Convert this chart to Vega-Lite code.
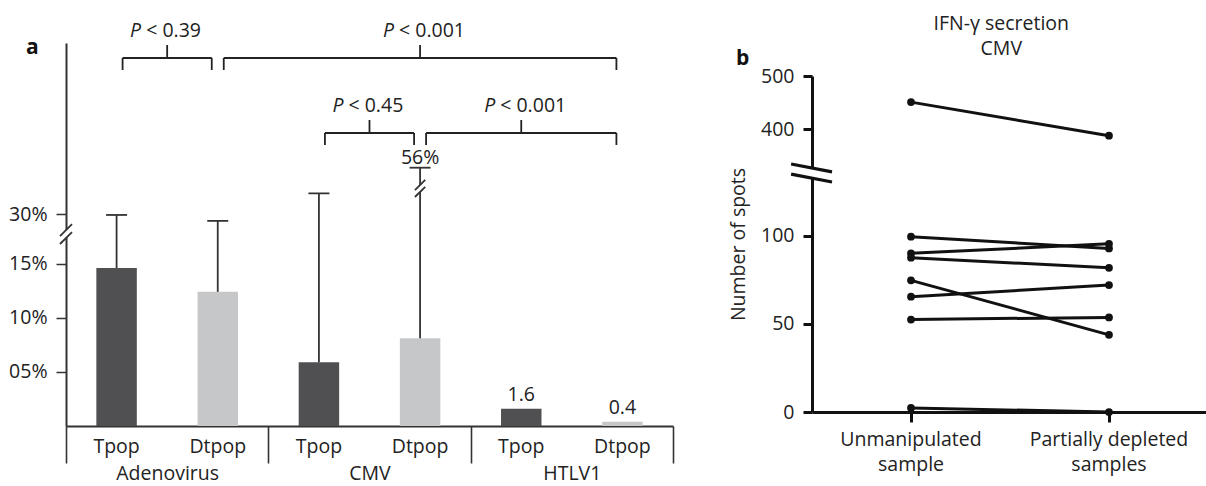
{
  "$schema": "https://vega.github.io/schema/vega-lite/v6.json",
  "background": "white",
  "padding": {"left": 8, "top": 13, "right": 0, "bottom": 4},
  "spacing": 54,
  "config": {
    "font": "Open Sans",
    "view": {"stroke": null},
    "axis": {"labelFont": "Open Sans", "titleFont": "Open Sans", "labelFontSize": 19.5, "titleFontSize": 19.5, "labelColor": "#222", "titleColor": "#222", "titleFontWeight": "normal", "grid": false},
    "title": {"font": "Open Sans", "color": "#222"},
    "text": {"font": "Open Sans", "fontSize": 19.5, "color": "#222"}
  },
  "hconcat": [
    {
      "width": 607,
      "height": 383,
      "title": {"text": "a", "anchor": "start", "frame": "group", "dx": -40, "dy": 54, "offset": 0, "fontSize": 21, "fontWeight": "bold", "baseline": "alphabetic", "color": "#111"},
      "layer": [
        {
          "data": {"values": [
            {"virus": "Adenovirus", "type": "Tpop", "bar": "Adenovirus Tpop", "pct": 14.6, "err": 29.8},
            {"virus": "Adenovirus", "type": "Dtpop", "bar": "Adenovirus Dtpop", "pct": 12.4, "err": 28.0},
            {"virus": "CMV", "type": "Tpop", "bar": "CMV Tpop", "pct": 5.9, "err": 41.7},
            {"virus": "CMV", "type": "Dtpop", "bar": "CMV Dtpop", "pct": 8.1, "err": 56, "errLabel": "56%"},
            {"virus": "HTLV1", "type": "Tpop", "bar": "HTLV1 Tpop", "pct": 1.6, "label": "1.6"},
            {"virus": "HTLV1", "type": "Dtpop", "bar": "HTLV1 Dtpop", "pct": 0.4, "label": "0.4"}
          ]},
          "encoding": {
            "x": {"field": "bar", "type": "nominal",
              "scale": {"domain": ["Adenovirus Tpop", "Adenovirus Dtpop", "CMV Tpop", "CMV Dtpop", "HTLV1 Tpop", "HTLV1 Dtpop"], "paddingInner": 0.6, "paddingOuter": 0.3},
              "axis": {"orient": "bottom", "title": null, "domain": false, "ticks": false, "tickSize": 0, "labelPadding": 11, "labelAngle": 0, "labelExpr": "split(datum.value, ' ')[1]"}}
          },
          "layer": [
            {
              "mark": {"type": "bar"},
              "encoding": {
                "y": {"field": "pct", "type": "quantitative",
                  "scale": {"domain": [0, 15, 30, 56, 125], "range": [383, 220.7, 171.3, 124.7, 0], "nice": false, "zero": false},
                  "axis": {"orient": "left", "title": null, "values": [5, 10, 15, 30], "labelExpr": "datum.value == 5 ? '05%' : datum.value + '%'", "domainColor": "#333", "domainWidth": 2, "tickColor": "#333", "tickWidth": 1.5, "tickSize": 10, "labelPadding": 9}},
                "color": {"field": "type", "type": "nominal", "scale": {"domain": ["Tpop", "Dtpop"], "range": ["#505052", "#c6c7c9"]}, "legend": null}
              }
            },
            {
              "transform": [{"filter": "datum.err != null"}],
              "mark": {"type": "rule", "color": "#333", "strokeWidth": 1.8},
              "encoding": {"y": {"field": "pct", "type": "quantitative"}, "y2": {"field": "err"}}
            },
            {
              "transform": [{"filter": "datum.err != null"}],
              "mark": {"type": "tick", "color": "#333", "thickness": 1.8, "size": 21, "orient": "horizontal", "opacity": 1},
              "encoding": {"y": {"field": "err", "type": "quantitative"}}
            },
            {
              "transform": [{"filter": "datum.label != null"}],
              "mark": {"type": "text", "baseline": "alphabetic", "dy": -8},
              "encoding": {"y": {"field": "pct", "type": "quantitative"}, "text": {"field": "label"}}
            },
            {
              "transform": [{"filter": "datum.errLabel != null"}],
              "mark": {"type": "text", "baseline": "alphabetic", "dy": -4},
              "encoding": {"y": {"field": "err", "type": "quantitative"}, "text": {"field": "errLabel"}}
            }
          ]
        },
        {
          "data": {"values": [
            {"from": "Adenovirus Tpop", "to": "Adenovirus Dtpop", "span": 1, "level": 2, "p": "< 0.39"},
            {"from": "Adenovirus Dtpop", "to": "HTLV1 Dtpop", "span": 4, "level": 2, "p": "< 0.001"},
            {"from": "CMV Tpop", "to": "CMV Dtpop", "span": 1, "level": 1, "p": "< 0.45"},
            {"from": "CMV Dtpop", "to": "HTLV1 Dtpop", "span": 2, "level": 1, "p": "< 0.001"}
          ]},
          "encoding": {
            "x": {"field": "from", "type": "nominal",
              "scale": {"domain": ["Adenovirus Tpop", "Adenovirus Dtpop", "CMV Tpop", "CMV Dtpop", "HTLV1 Tpop", "HTLV1 Dtpop"], "paddingInner": 0.6, "paddingOuter": 0.3},
              "axis": null},
            "y": {"field": "level", "type": "quantitative", "scale": {"domain": [1, 2], "range": [90, 15], "nice": false, "zero": false}, "axis": null}
          },
          "layer": [
            {
              "mark": {"type": "rule", "color": "#222", "strokeWidth": 1.8, "xOffset": 6, "x2Offset": -6},
              "encoding": {"x2": {"field": "to"}}
            },
            {
              "mark": {"type": "rule", "color": "#222", "strokeWidth": 1.8, "xOffset": 6, "y2Offset": 12},
              "encoding": {"y2": {"field": "level"}}
            },
            {
              "mark": {"type": "rule", "color": "#222", "strokeWidth": 1.8, "xOffset": -6, "y2Offset": 12},
              "encoding": {"x": {"field": "to", "type": "nominal", "axis": null}, "y2": {"field": "level"}}
            },
            {
              "mark": {"type": "rule", "color": "#222", "strokeWidth": 1.8, "y2Offset": -13},
              "encoding": {"xOffset": {"field": "span", "type": "quantitative", "scale": {"domain": [0, 1], "range": [20.23, 70.81], "zero": false, "nice": false}}, "y2": {"field": "level"}}
            },
            {
              "mark": {"type": "text", "align": "right", "baseline": "alphabetic", "dx": -26, "dy": -21, "fontStyle": "italic", "text": "P"},
              "encoding": {"xOffset": {"field": "span", "type": "quantitative", "scale": {"domain": [0, 1], "range": [20.23, 70.81], "zero": false, "nice": false}}}
            },
            {
              "mark": {"type": "text", "align": "left", "baseline": "alphabetic", "dx": -21, "dy": -21},
              "encoding": {"xOffset": {"field": "span", "type": "quantitative", "scale": {"domain": [0, 1], "range": [20.23, 70.81], "zero": false, "nice": false}}, "text": {"field": "p"}}
            }
          ]
        },
        {
          "data": {"values": [{}]},
          "encoding": {
            "x": {"datum": "Adenovirus", "type": "nominal", "bandPosition": 0,
              "scale": {"domain": ["Adenovirus", "CMV", "HTLV1"], "paddingInner": 0, "paddingOuter": 0},
              "axis": {"orient": "bottom", "title": null, "domain": true, "domainColor": "#333", "domainWidth": 2, "ticks": true, "tickBand": "extent", "tickSize": 37, "tickWidth": 1.6, "tickColor": "#333", "labelPadding": 1, "labelAngle": 0}},
            "y": {"datum": 24, "type": "quantitative", "scale": {"domain": [0, 15, 30, 56, 125], "range": [383, 220.7, 171.3, 124.7, 0], "nice": false, "zero": false}, "axis": null}
          },
          "layer": [
            {"mark": {"type": "point", "shape": "M-0.43,0.14L0.43,-0.71L0.43,-0.14L-0.43,0.71Z", "size": 784, "filled": true, "color": "white", "opacity": 1, "strokeWidth": 0}},
            {"mark": {"type": "point", "shape": "M-0.43,0.14L0.43,-0.71M-0.43,0.71L0.43,-0.14", "size": 784, "filled": false, "color": "#333", "opacity": 1, "strokeWidth": 1.8}}
          ]
        },
        {
          "data": {"values": [{}]},
          "encoding": {
            "x": {"datum": "CMV Dtpop", "type": "nominal",
              "scale": {"domain": ["Adenovirus Tpop", "Adenovirus Dtpop", "CMV Tpop", "CMV Dtpop", "HTLV1 Tpop", "HTLV1 Dtpop"], "paddingInner": 0.6, "paddingOuter": 0.3},
              "axis": null},
            "y": {"datum": 44.4, "type": "quantitative", "scale": {"domain": [0, 15, 30, 56, 125], "range": [383, 220.7, 171.3, 124.7, 0], "nice": false, "zero": false}, "axis": null}
          },
          "layer": [
            {"mark": {"type": "point", "shape": "M-0.43,0.14L0.43,-0.71L0.43,-0.14L-0.43,0.71Z", "size": 576, "filled": true, "color": "white", "opacity": 1, "strokeWidth": 0}},
            {"mark": {"type": "point", "shape": "M-0.43,0.14L0.43,-0.71M-0.43,0.71L0.43,-0.14", "size": 576, "filled": false, "color": "#333", "opacity": 1, "strokeWidth": 1.8}}
          ]
        }
      ],
      "resolve": {"scale": {"x": "independent", "y": "independent", "xOffset": "independent"}, "axis": {"x": "independent", "y": "independent"}}
    },
    {
      "title": {"text": ["IFN-γ secretion", "CMV"], "anchor": "middle", "fontSize": 19.5, "fontWeight": "normal", "lineHeight": 25, "offset": -31, "baseline": "alphabetic", "dx": 33},
      "vconcat": [
        {
          "width": 396,
          "height": 369,
          "title": {"text": "b", "anchor": "start", "frame": "group", "dx": -76, "dy": 46, "offset": 3, "fontSize": 21, "fontWeight": "bold", "baseline": "alphabetic", "color": "#111"},
          "layer": [
            {
              "data": {"values": [
                {"subject": "s1", "condition": "Unmanipulated sample", "spots": 451},
                {"subject": "s1", "condition": "Partially depleted samples", "spots": 382},
                {"subject": "s2", "condition": "Unmanipulated sample", "spots": 99.3},
                {"subject": "s2", "condition": "Partially depleted samples", "spots": 92.7},
                {"subject": "s3", "condition": "Unmanipulated sample", "spots": 89.9},
                {"subject": "s3", "condition": "Partially depleted samples", "spots": 95.3},
                {"subject": "s4", "condition": "Unmanipulated sample", "spots": 87.4},
                {"subject": "s4", "condition": "Partially depleted samples", "spots": 81.7},
                {"subject": "s5", "condition": "Unmanipulated sample", "spots": 74.6},
                {"subject": "s5", "condition": "Partially depleted samples", "spots": 43.7},
                {"subject": "s6", "condition": "Unmanipulated sample", "spots": 65.3},
                {"subject": "s6", "condition": "Partially depleted samples", "spots": 71.9},
                {"subject": "s7", "condition": "Unmanipulated sample", "spots": 52.4},
                {"subject": "s7", "condition": "Partially depleted samples", "spots": 53.6},
                {"subject": "s8", "condition": "Unmanipulated sample", "spots": 2.3},
                {"subject": "s8", "condition": "Partially depleted samples", "spots": 0}
              ]},
              "encoding": {
                "x": {"field": "condition", "type": "nominal",
                  "scale": {"type": "band", "domain": ["Unmanipulated sample", "Partially depleted samples"], "paddingInner": 0, "paddingOuter": 0},
                  "axis": {"orient": "bottom", "title": null, "labelAngle": 0, "labelExpr": "datum.value == 'Unmanipulated sample' ? ['Unmanipulated', 'sample'] : ['Partially depleted', 'samples']", "labelLineHeight": 25, "labelPadding": 8, "tickSize": 10, "tickWidth": 3, "tickColor": "#111", "domainColor": "#111", "domainWidth": 3}},
                "y": {"field": "spots", "type": "quantitative",
                  "scale": {"domain": [0, 100, 400, 500], "range": [369, 192.5, 86.3, 33], "nice": false, "zero": false},
                  "axis": {"orient": "left", "title": "Number of spots", "values": [0, 50, 100, 400, 500], "tickSize": 9, "tickWidth": 3, "tickColor": "#111", "domainColor": "#111", "domainWidth": 3, "labelPadding": 9, "titlePadding": 12}}
              },
              "layer": [
                {"mark": {"type": "line", "color": "#111", "strokeWidth": 3}, "encoding": {"detail": {"field": "subject", "type": "nominal"}}},
                {"mark": {"type": "point", "filled": true, "color": "#111", "size": 60, "opacity": 1}}
              ]
            },
            {
              "data": {"values": [{}]},
              "encoding": {
                "x": {"datum": "Unmanipulated sample", "type": "nominal", "bandPosition": 0,
                  "scale": {"type": "band", "domain": ["Unmanipulated sample", "Partially depleted samples"], "paddingInner": 0, "paddingOuter": 0},
                  "axis": null},
                "y": {"datum": 276.5, "type": "quantitative", "scale": {"domain": [0, 100, 400, 500], "range": [369, 192.5, 86.3, 33], "nice": false, "zero": false}, "axis": null}
              },
              "layer": [
                {"mark": {"type": "point", "shape": "M-0.95,-0.41L0.91,-0.05L0.91,0.41L-0.95,0.05Z", "size": 1936, "filled": true, "color": "white", "opacity": 1, "strokeWidth": 0}},
                {"mark": {"type": "point", "shape": "M-0.95,-0.41L0.91,-0.05M-0.95,0.05L0.91,0.41", "size": 1936, "filled": false, "color": "#111", "opacity": 1, "strokeWidth": 3.2}}
              ]
            }
          ],
          "resolve": {"scale": {"x": "independent", "y": "independent"}, "axis": {"x": "independent", "y": "independent"}}
        }
      ]
    }
  ]
}
